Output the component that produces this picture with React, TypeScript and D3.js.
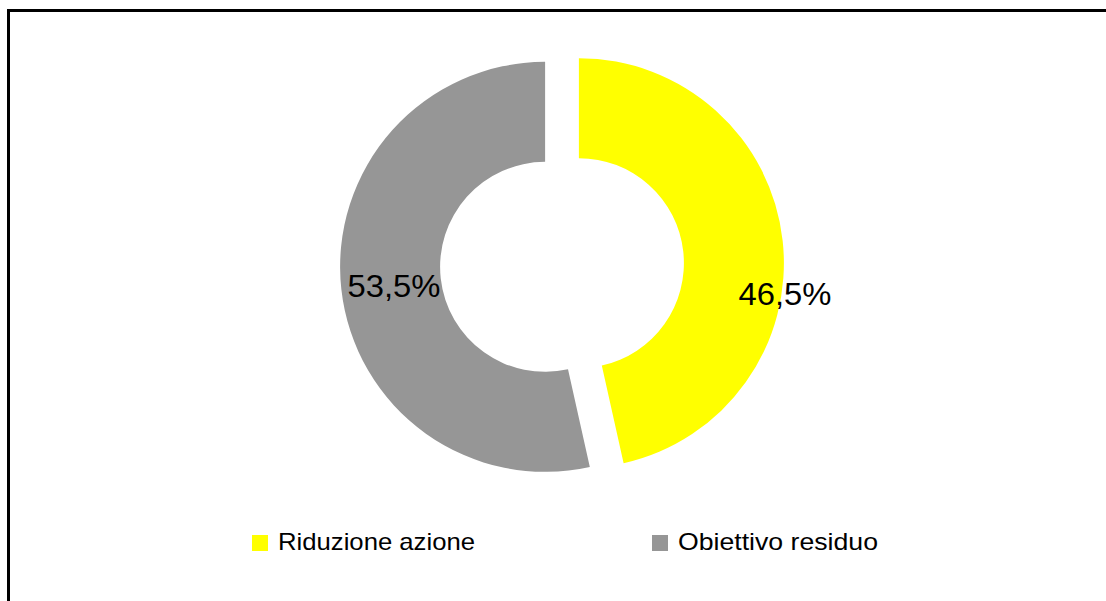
import React from "react";
import * as d3 from "d3";

const categories = ["Riduzione azione", "Obiettivo residuo"];
const values = [46.5, 53.5];
const labels = ["46,5%", "53,5%"];
const colors = ["#FFFF00", "#969696"];

const W = 1106;
const H = 601;
const cx = 562;
const cy = 265;
const outerR = 205;
const innerR = 105;
const explode = 17;
// label anchor positions (center x, baseline y)
const labelPos = [
  [785, 305],
  [394, 297],
];
const legendX = [252, 652];
const legendY = 535;

export default function App() {
  const pie = d3
    .pie<number>()
    .sort(null)
    .value((d) => d)
    .startAngle(0)
    .endAngle(2 * Math.PI);
  const arcs = pie(values);
  const arcGen = d3
    .arc<d3.PieArcDatum<number>>()
    .innerRadius(innerR)
    .outerRadius(outerR);

  return (
    <svg
      width={W}
      height={H}
      style={{ position: "absolute", left: 0, top: 0, background: "#fff" }}
      fontFamily="'Liberation Sans', Arial, sans-serif"
    >
      <rect x={0} y={0} width={W} height={H} fill="#fff" />
      <rect
        x={8.5}
        y={10.5}
        width={W + 20}
        height={H + 20}
        fill="none"
        stroke="#000"
        strokeWidth={3}
      />
      {arcs.map((a, i) => {
        const mid = (a.startAngle + a.endAngle) / 2;
        const dx = explode * Math.sin(mid);
        const dy = -explode * Math.cos(mid);
        return (
          <path
            key={i}
            d={arcGen(a) || ""}
            transform={`translate(${cx + dx},${cy + dy})`}
            fill={colors[i]}
          />
        );
      })}
      {labels.map((t, i) => (
        <text
          key={i}
          x={labelPos[i][0]}
          y={labelPos[i][1]}
          textAnchor="middle"
          fontSize={31}
          fill="#000"
          textLength={93}
          lengthAdjust="spacingAndGlyphs"
        >
          {t}
        </text>
      ))}
      {categories.map((c, i) => (
        <g key={i}>
          <rect
            x={legendX[i]}
            y={legendY}
            width={16}
            height={16}
            fill={colors[i]}
          />
          <text
            x={legendX[i] + 26}
            y={legendY + 15}
            fontSize={24}
            fill="#000"
            textLength={i === 0 ? 197 : 200}
            lengthAdjust="spacingAndGlyphs"
          >
            {c}
          </text>
        </g>
      ))}
    </svg>
  );
}
